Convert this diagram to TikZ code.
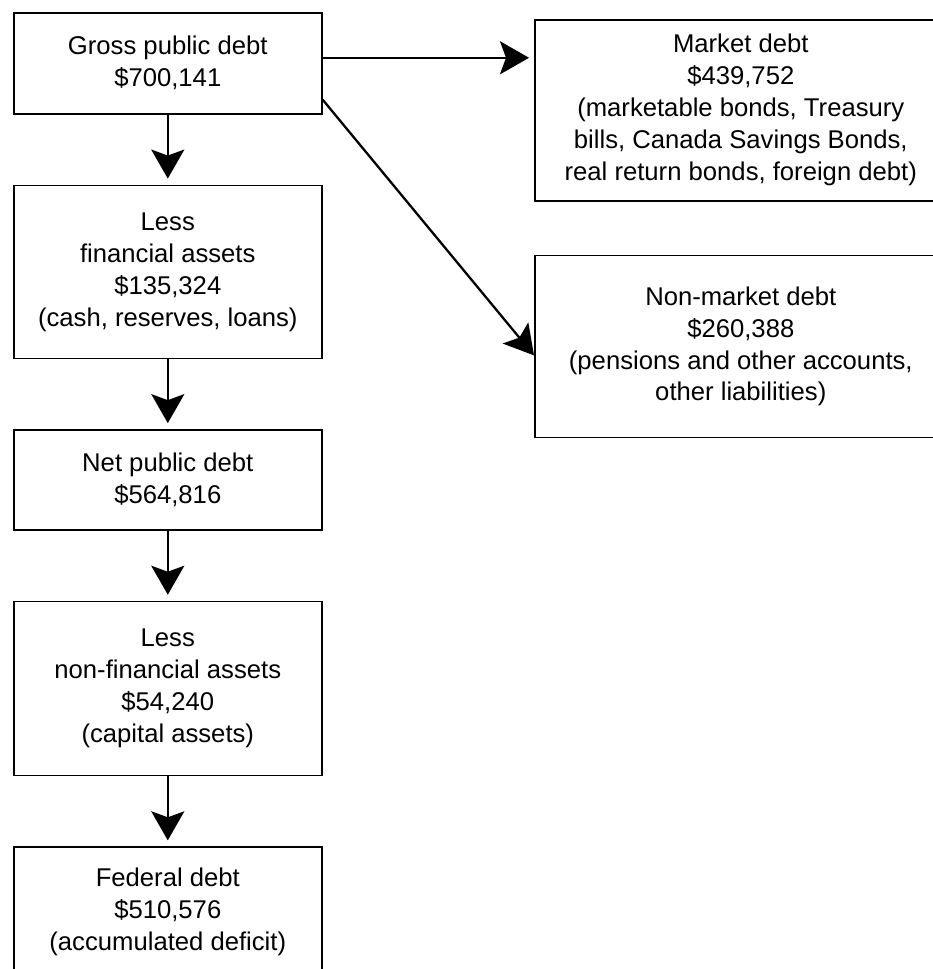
\documentclass[tikz,border=0pt]{standalone}
\usepackage{fontspec}
\setmainfont{Liberation Sans}
\usetikzlibrary{arrows.meta,positioning}

\tikzset{
  block/.style={draw, line width=0.9pt, rectangle, align=center, inner sep=0pt,
                minimum width=6.16cm, font=\fontsize{14.6}{18.2}\selectfont},
  wideblock/.style={block, minimum width=8.24cm, minimum height=3.62cm},
  flow/.style={-{Stealth[length=0.58cm, width=0.66cm, inset=0.12cm]}, line width=1.3pt}
}

\begin{document}
\begin{tikzpicture}[node distance=1.4cm]
      \useasboundingbox (0,0) rectangle (18.66,-19.38);
      \node[block, minimum height=2.02cm, anchor=north west]  (gross)   at (0.26,-0.24)
                                     {Gross public debt\\\$700,141};
      \node[block, minimum height=3.46cm]  (finassets)  [below=of gross]
                                     {Less\\financial assets\\\$135,324\\(cash, reserves, loans)};
      \node[block, minimum height=2.0cm]   (netdebt)    [below=of finassets]
                                     {Net public debt\\\$564,816};
      \node[block, minimum height=3.48cm]  (nonfinassets) [below=of netdebt]
                                     {Less\\non-financial assets\\\$54,240\\(capital assets)};
      \node[block, minimum height=2.6cm]   (federal)    [below=of nonfinassets]
                                     {Federal debt\\\$510,576\\(accumulated deficit)};

      \node[wideblock, anchor=north west]  (market)     at (10.68,-0.38)
                  {Market debt\\\$439,752\\(marketable bonds, Treasury\\bills, Canada Savings Bonds,\\real return bonds, foreign debt)};
      \node[wideblock, minimum height=3.64cm] (nonmarket) [below=1.06cm of market]
                  {Non-market debt\\\$260,388\\(pensions and other accounts,\\other liabilities)};

      \coordinate (grossA) at ([yshift=0.11cm]gross.east);
      \coordinate (grossB) at ([yshift=0.3cm]gross.south east);
      \coordinate (nonmarketA) at ([yshift=-0.18cm]nonmarket.west);

      \draw[flow, shorten >=0.12cm] (gross)        -- (finassets);
      \draw[flow, shorten >=0.12cm] (finassets)    -- (netdebt);
      \draw[flow, shorten >=0.12cm] (netdebt)      -- (nonfinassets);
      \draw[flow, shorten >=0.12cm] (nonfinassets) -- (federal);
      \draw[flow, shorten >=0.1cm]  (grossA) -- (grossA -| market.west);
      \draw[flow]                   (grossB) -- (nonmarketA);
\end{tikzpicture}
\end{document}
